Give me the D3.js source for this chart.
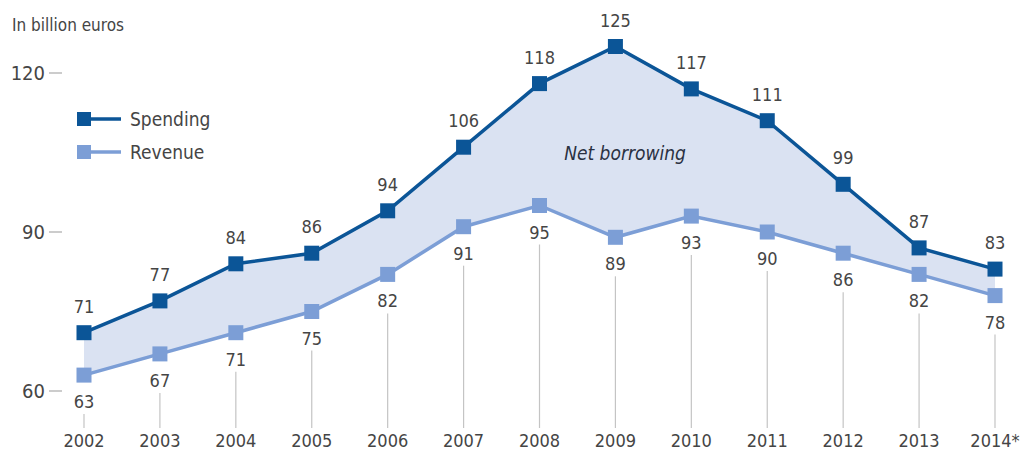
<!DOCTYPE html>
<html><head><meta charset="utf-8">
<script src="https://cdn.jsdelivr.net/npm/d3@7"></script>
<style>
body{margin:0;background:#fff;}
svg{display:block;}
text{font-family:"Liberation Sans Narrow","DejaVu Sans Condensed","Open Sans",sans-serif;}
</style></head>
<body><svg id="c" width="1022" height="455"></svg>
<script>
const years = ["2002","2003","2004","2005","2006","2007","2008","2009","2010","2011","2012","2013","2014*"];
const spending = [71,77,84,86,94,106,118,125,117,111,99,87,83];
const revenue = [63,67,71,75,82,91,95,89,93,90,86,82,78];
const yTicks = [60,90,120];
const seriesNames = ["Spending","Revenue"];

const svg = d3.select("#c");
const dark = "#0b5597", light = "#7c9ed6", fill = "#dae2f2", txt = "#454545";

const x = d3.scalePoint().domain(years).range([84, 995]);
const y = d3.scaleLinear().domain([60,120]).range([391, 73]);

// area
const idx = d3.range(years.length);
svg.append("path")
  .attr("d", d3.area().x(i=>x(years[i])).y0(i=>y(revenue[i])).y1(i=>y(spending[i]))(idx))
  .attr("fill", fill);

// y axis ticks
const ya = svg.append("g");
yTicks.forEach(t=>{
  ya.append("text").attr("x",45).attr("y",y(t)).attr("dy","0.35em").attr("text-anchor","end")
    .attr("font-size",20).attr("fill",txt).text(t);
  ya.append("line").attr("x1",49).attr("x2",62).attr("y1",y(t)).attr("y2",y(t))
    .attr("stroke","#999").attr("stroke-width",1);
});

svg.append("text").attr("x",12).attr("y",31).attr("font-size",17).attr("fill",txt).text("In billion euros");

// vertical grey lines & year labels
idx.forEach(i=>{
  const xx = x(years[i]);
  svg.append("line").attr("x1",xx).attr("x2",xx).attr("y1",y(revenue[i])+39).attr("y2",428)
    .attr("stroke","#c4c4c4").attr("stroke-width",1.2);
  svg.append("text").attr("x",xx).attr("y",447).attr("text-anchor","middle")
    .attr("font-size",18).attr("fill",txt).text(years[i]);
});

// lines
const line = vals => d3.line().x(i=>x(years[i])).y(i=>y(vals[i]))(idx);
svg.append("path").attr("d",line(revenue)).attr("fill","none").attr("stroke",light).attr("stroke-width",3.5);
svg.append("path").attr("d",line(spending)).attr("fill","none").attr("stroke",dark).attr("stroke-width",3.5);

const ms = 15;
idx.forEach(i=>{
  svg.append("rect").attr("x",x(years[i])-ms/2).attr("y",y(revenue[i])-ms/2).attr("width",ms).attr("height",ms).attr("fill",light);
  svg.append("rect").attr("x",x(years[i])-ms/2).attr("y",y(spending[i])-ms/2).attr("width",ms).attr("height",ms).attr("fill",dark);
  svg.append("text").attr("x",x(years[i])).attr("y",y(spending[i])-20).attr("text-anchor","middle")
    .attr("font-size",18).attr("fill",txt).text(spending[i]);
  svg.append("text").attr("x",x(years[i])).attr("y",y(revenue[i])+33).attr("text-anchor","middle")
    .attr("font-size",18).attr("fill",txt).text(revenue[i]);
});

// net borrowing
svg.append("text").attr("x",625).attr("y",160).attr("text-anchor","middle").attr("font-style","italic")
  .attr("font-size",19).attr("fill","#2a3142").text("Net borrowing");

// legend
const lg = [{n:seriesNames[0],c:dark,y:119},{n:seriesNames[1],c:light,y:152}];
lg.forEach(d=>{
  svg.append("line").attr("x1",84).attr("x2",121).attr("y1",d.y).attr("y2",d.y).attr("stroke",d.c).attr("stroke-width",3.5);
  svg.append("rect").attr("x",77).attr("y",d.y-7).attr("width",14).attr("height",14).attr("fill",d.c);
  svg.append("text").attr("x",130).attr("y",d.y).attr("dy","0.35em").attr("font-size",19).attr("fill",txt).text(d.n);
});
</script></body></html>
